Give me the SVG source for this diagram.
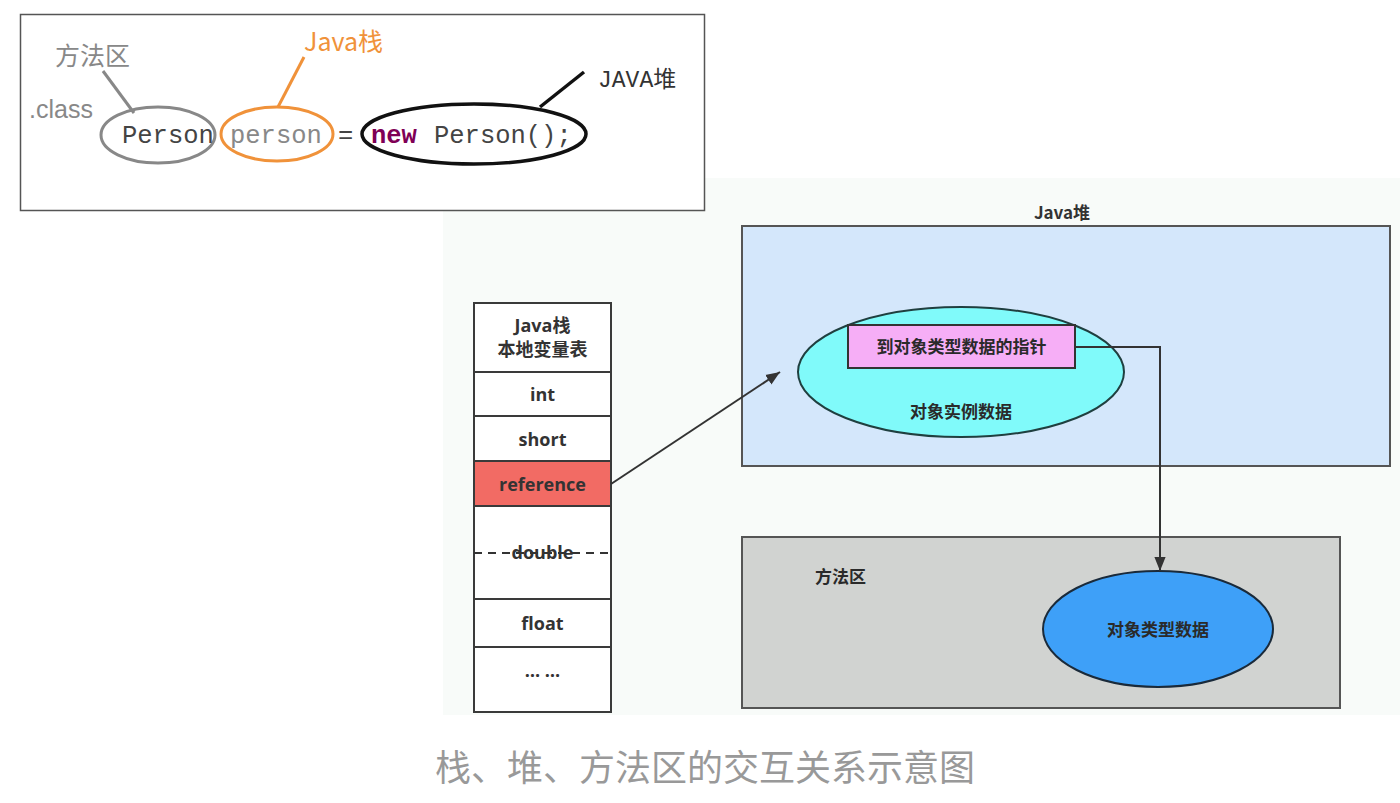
<svg xmlns="http://www.w3.org/2000/svg" width="1400" height="803" viewBox="0 0 1400 803">
<defs>
<style>
.cn{font-family:"Noto Sans CJK SC","Noto Sans",sans-serif;}
.mono{font-family:"Liberation Mono","DejaVu Sans Mono",monospace;font-size:25.5px;}
.cell{fill:#ffffff;stroke:#3a3a3a;stroke-width:2;}
.ct{font-family:"Open Sans","Noto Sans CJK SC",sans-serif;font-size:18px;font-weight:bold;fill:#333;text-anchor:middle;}
.conn{fill:none;stroke:#333;stroke-width:2;}
</style>
<marker id="arr2" viewBox="0 0 10 10" refX="10" refY="5" markerWidth="14" markerHeight="14" markerUnits="userSpaceOnUse" orient="auto">
<path d="M0,1 L10,5 L0,9 z" fill="#333"/>
</marker>
</defs>
<rect width="1400" height="803" fill="#ffffff"/>
<rect x="443" y="178" width="957" height="537" fill="#f8fbf9"/>

<g id="code-box">
<rect x="20.5" y="14.5" width="684" height="196" fill="#ffffff" stroke="#555" stroke-width="1.5"/>
<text x="55" y="65" class="cn" font-size="25" fill="#888">方法区</text>
<text x="29" y="118" font-family="Liberation Sans,Arial,sans-serif" font-size="25" fill="#888">.class</text>
<line x1="103" y1="71" x2="134" y2="113" stroke="#888" stroke-width="3"/>
<ellipse cx="158" cy="135" rx="57" ry="28" fill="none" stroke="#888" stroke-width="3"/>
<text x="122" y="143" class="mono" fill="#444">Person</text>
<line x1="304" y1="57" x2="278" y2="107" stroke="#f0923a" stroke-width="3"/>
<text x="304" y="51" class="cn" font-size="25" fill="#f0923a">Java栈</text>
<ellipse cx="277" cy="134" rx="56" ry="27" fill="none" stroke="#f0923a" stroke-width="3"/>
<text x="230" y="143" class="mono" fill="#888">person</text>
<text x="338" y="143" class="mono" fill="#444">=</text>
<ellipse cx="474" cy="134" rx="112" ry="30" fill="none" stroke="#111" stroke-width="3.5"/>
<line x1="540" y1="107" x2="584" y2="72" stroke="#111" stroke-width="3.5"/>
<text x="371" y="143" class="mono" fill="#7f0055" font-weight="bold">new</text>
<text x="434" y="143" class="mono" fill="#444">Person();</text>
<text x="598" y="87" font-size="23" fill="#333"><tspan font-family="Liberation Mono,monospace">JAVA</tspan><tspan font-family="Noto Sans CJK SC,sans-serif">堆</tspan></text>
</g>

<g id="java-stack">
<rect x="474" y="303" width="137" height="69" class="cell"/>
<text x="542.5" y="332" class="ct" font-size="17">Java栈</text>
<text x="542.5" y="356" class="ct" font-size="17">本地变量表</text>
<rect x="474" y="372" width="137" height="44" class="cell"/>
<text x="542.5" y="401" class="ct">int</text>
<rect x="474" y="416" width="137" height="45" class="cell"/>
<text x="542.5" y="446" class="ct">short</text>
<rect x="474" y="461" width="137" height="45" fill="#f26b64" stroke="#3a3a3a" stroke-width="2"/>
<text x="542.5" y="491" class="ct">reference</text>
<rect x="474" y="506" width="137" height="93" class="cell"/>
<line x1="474" y1="553" x2="611" y2="553" stroke="#333" stroke-width="2" stroke-dasharray="8,6"/>
<text x="542.5" y="559" class="ct">double</text>
<rect x="474" y="599" width="137" height="48" class="cell"/>
<text x="542.5" y="630" class="ct">float</text>
<rect x="474" y="647" width="137" height="65" class="cell"/>
<text x="542.5" y="677" class="ct" font-size="15">… …</text>
</g>

<g id="java-heap">
<text x="1062" y="219" class="cn" font-size="17" font-weight="bold" fill="#333" text-anchor="middle">Java堆</text>
<rect x="742" y="226" width="648" height="240" fill="#d4e7fb" stroke="#555" stroke-width="2"/>
</g>

<g id="instance-data">
<ellipse cx="961" cy="372" rx="163" ry="65" fill="#80fafa" stroke="#1f3f3f" stroke-width="2"/>
<text x="961" y="418" class="cn" font-size="17" font-weight="bold" fill="#2a2a2a" text-anchor="middle">对象实例数据</text>
</g>

<g id="type-pointer">
<rect x="848" y="325" width="227" height="43" fill="#f6aef6" stroke="#333" stroke-width="2"/>
<text x="961.5" y="353" class="cn" font-size="17" font-weight="bold" fill="#2a2a2a" text-anchor="middle">到对象类型数据的指针</text>
</g>

<g id="method-area">
<rect x="742" y="537" width="598" height="171" fill="#d1d3d1" stroke="#555" stroke-width="2"/>
<text x="815" y="583" class="cn" font-size="17" font-weight="bold" fill="#2a2a2a">方法区</text>
</g>

<g id="type-data">
<ellipse cx="1158" cy="629" rx="115" ry="58" fill="#3ea0f8" stroke="#1a2a3a" stroke-width="2"/>
<text x="1158" y="636" class="cn" font-size="17" font-weight="bold" fill="#2a2a2a" text-anchor="middle">对象类型数据</text>
</g>

<g id="connectors">
<line x1="611" y1="484" x2="780" y2="372" class="conn" marker-end="url(#arr2)"/>
<polyline points="1075,347 1160,347 1160,571" class="conn" marker-end="url(#arr2)"/>
</g>

<text x="705" y="781" class="cn" font-size="36" fill="#999" text-anchor="middle">栈、堆、方法区的交互关系示意图</text>
</svg>
